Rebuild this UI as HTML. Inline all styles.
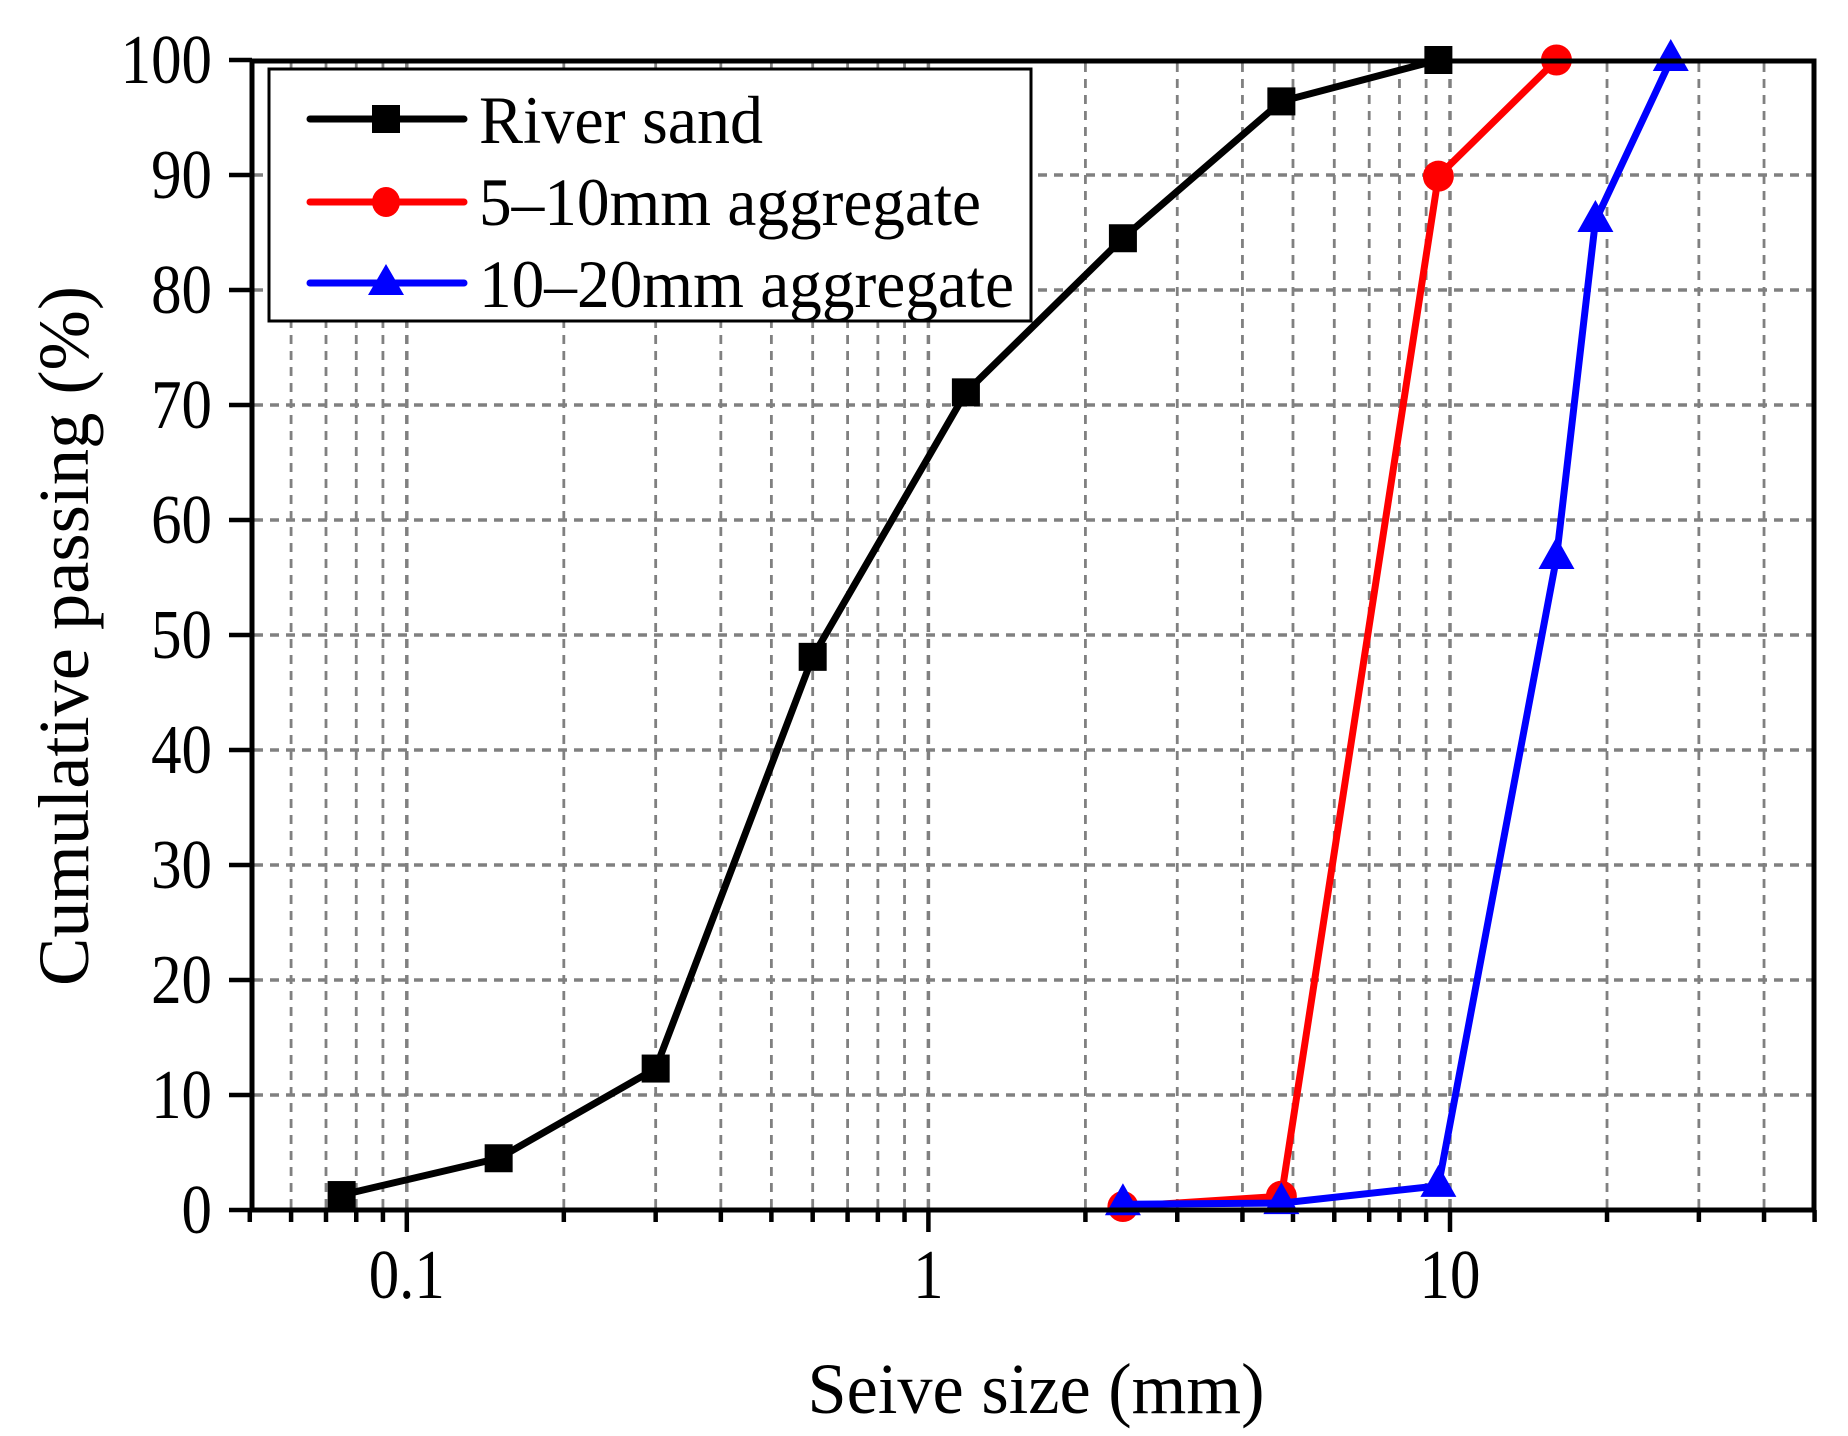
<!DOCTYPE html>
<html><head><meta charset="utf-8"><style>html,body{margin:0;padding:0;background:#fff}svg{display:block}</style></head>
<body>
<svg id="s" width="1848" height="1436" viewBox="0 0 1848 1436" xmlns="http://www.w3.org/2000/svg" font-family="Liberation Serif, serif">
<g id="grid" stroke="#808080" fill="none"></g>
<g id="ticks" stroke="#000" stroke-width="4.5"></g>
<g id="series"></g>
<rect x="252" y="61" width="1562" height="1149" fill="none" stroke="#000" stroke-width="5"/>
<g id="labels" font-size="70" fill="#000"></g>
<rect x="269" y="69" width="762" height="252" fill="#fff" stroke="#000" stroke-width="3"/>
<g font-size="68">
<line x1="310" y1="119" x2="464" y2="119" stroke="#000" stroke-width="7" stroke-linecap="round"/>
<rect x="372" y="105" width="28" height="28" fill="#000"/>
<text x="479" y="143" textLength="284" lengthAdjust="spacingAndGlyphs">River sand</text>
<line x1="310" y1="202" x2="464" y2="202" stroke="#f00" stroke-width="7" stroke-linecap="round"/>
<ellipse cx="386" cy="202" rx="14" ry="15" fill="#f00"/>
<text x="479" y="225" textLength="502" lengthAdjust="spacingAndGlyphs">5–10mm aggregate</text>
<line x1="310" y1="283" x2="464" y2="283" stroke="#00f" stroke-width="7" stroke-linecap="round"/>
<polygon points="386,264 368,295 404,295" fill="#00f"/>
<text x="479" y="307" textLength="535" lengthAdjust="spacingAndGlyphs">10–20mm aggregate</text>
</g>
<text x="1036" y="1413" font-size="72" text-anchor="middle" textLength="457" lengthAdjust="spacingAndGlyphs">Seive size (mm)</text>
<text transform="translate(88,636) rotate(-90)" font-size="72" text-anchor="middle" textLength="700" lengthAdjust="spacingAndGlyphs">Cumulative passing (%)</text>
</svg>
<script>
const NS="http://www.w3.org/2000/svg";
const X=v=>1450+521.6*Math.log10(v/10), Y=p=>1210-11.5*p;
function el(t,a,p){const e=document.createElementNS(NS,t);for(const k in a)e.setAttribute(k,a[k]);p.appendChild(e);return e;}
const grid=document.getElementById('grid'),ticks=document.getElementById('ticks'),labels=document.getElementById('labels'),ser=document.getElementById('series');
const xs=[];[0.01,0.1,1,10].forEach(d=>{for(let m=1;m<=9;m++){const v=d*m;if(v>=0.05&&v<=50)xs.push([v,m==1]);}});
xs.forEach(([v,maj])=>{const x=X(v);
 if(x>256&&x<1810) el('line',{x1:x,y1:63,x2:x,y2:1208,'stroke-width':maj?3.5:2.8,'stroke-dasharray':'9,7'},grid);
 el('line',{x1:x,y1:1210,x2:x,y2:maj?1232:1222},ticks);});
for(let p=10;p<100;p+=10) el('line',{x1:254,y1:Y(p),x2:1812,y2:Y(p),'stroke-width':3.5,'stroke-dasharray':'9,7'},grid);
for(let p=0;p<=100;p+=10){el('line',{x1:229,y1:Y(p),x2:252,y2:Y(p)},ticks);
 const t=el('text',{x:0,y:0,'text-anchor':'end',transform:`translate(212,${Y(p)+23}) scale(0.87,1)`},labels);t.textContent=p;}
[[0.1,'0.1'],[1,'1'],[10,'10']].forEach(([v,s])=>{const t=el('text',{x:0,y:0,'text-anchor':'middle',transform:`translate(${X(v)},1298) scale(0.87,1)`},labels);t.textContent=s;});
function series(data,col,mk){const pts=data.map(([v,p])=>[X(v),Y(p)]);
 el('polyline',{points:pts.map(q=>q.join(',')).join(' '),fill:'none',stroke:col,'stroke-width':7,'stroke-linejoin':'round'},ser);
 pts.forEach(([x,y])=>{if(mk=='s')el('rect',{x:x-14,y:y-14,width:28,height:28,fill:col},ser);
  else if(mk=='c')el('circle',{cx:x,cy:y,r:15.5,fill:col},ser);
  else el('polygon',{points:`${x},${y-21} ${x-18},${y+11} ${x+18},${y+11}`,fill:col},ser);});}
series([[0.075,1.3],[0.15,4.5],[0.3,12.3],[0.6,48.1],[1.18,71.1],[2.36,84.5],[4.75,96.4],[9.5,100]],'#000','s');
series([[2.36,0.3],[4.75,1.2],[9.5,89.9],[16,100]],'#f00','c');
series([[2.36,0.5],[4.75,0.6],[9.5,2.1],[16,56.7],[19,86],[26.5,100]],'#00f','t');
</script>
</body></html>
